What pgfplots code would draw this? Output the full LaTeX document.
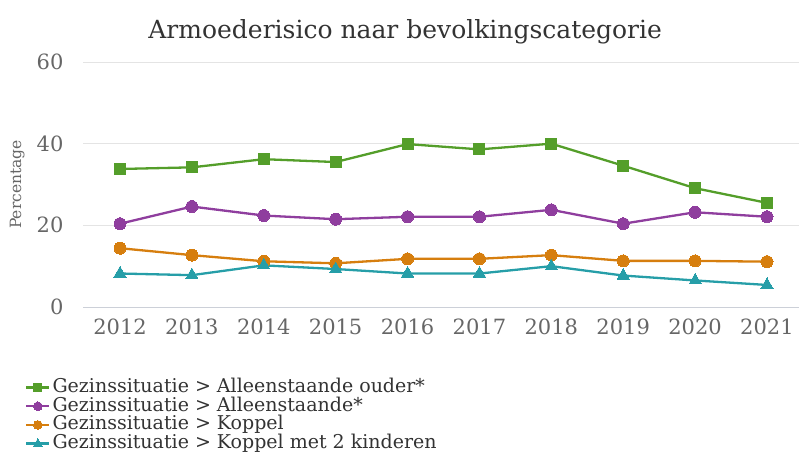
\documentclass[border=0pt]{standalone}
\usepackage{fontspec}
\setmainfont{DejaVu Serif}
\usepackage{pgfplots}
\pgfplotsset{compat=1.18}
\definecolor{cgreen}{RGB}{84,158,42}
\definecolor{cpurple}{RGB}{143,62,158}
\definecolor{corange}{RGB}{214,126,14}
\definecolor{cteal}{RGB}{38,158,168}
\definecolor{gridc}{RGB}{228,228,228}
\definecolor{basec}{RGB}{204,208,216}
\definecolor{txt}{RGB}{51,51,51}
\definecolor{tickc}{RGB}{102,102,102}
\begin{document}
\begin{tikzpicture}
\useasboundingbox (0,0) rectangle (799pt,466pt);
\begin{axis}[
  at={(83pt,159pt)}, anchor=south west,
  width=716pt, height=245pt, scale only axis,
  xmin=2011.485, xmax=2021.445,
  ymin=0, ymax=60,
  xtick={2012,...,2021},
  ytick={20,40,60},
  extra y ticks={0},
  extra y tick style={grid style={draw=basec, line width=1pt}},
  /pgf/number format/assume math mode=true,
  x tick label style={/pgf/number format/1000 sep={}, font=\fontsize{21}{24}\selectfont, text=tickc, yshift=-8pt},
  y tick label style={font=\fontsize{21}{24}\selectfont, text=tickc, xshift=-16pt},
  axis line style={draw=none},
  major tick length=0pt,
  ymajorgrids, grid style={draw=gridc, line width=1pt},
  title={Armoederisico naar bevolkingscategorie},
  title style={font=\fontsize{25}{29}\selectfont, text=txt, at={(axis description cs:0.45,1)}, anchor=south, yshift=8pt},
  ylabel={Percentage},
  ylabel style={font=\fontsize{15.5}{17}\selectfont, text=tickc, at={(axis description cs:-0.092,0.5)}, anchor=center},
  legend style={draw=none, fill=none, at={(axis description cs:-0.081,-0.285)}, anchor=north west,
    font=\fontsize{19}{20}\selectfont, text=txt, row sep=-2.3pt, inner sep=0pt,
    nodes={text height=13.5pt, text depth=3.5pt},
    /tikz/every even column/.append style={column sep=8pt}},
  legend cell align=left,
  legend image code/.code={\draw[#1, mark repeat=2, mark phase=2, mark options={scale=0.72, line width=0pt}] plot coordinates {(0pt,0pt) (11.5pt,0pt) (23pt,0pt)};},
  every axis plot/.append style={line width=2.3pt, mark options={solid}},
]
\addplot[cgreen, mark=square*, mark size=5.5pt, mark options={line width=0pt}] coordinates {
(2012,33.8) (2013,34.2) (2014,36.2) (2015,35.5) (2016,39.9) (2017,38.6) (2018,40.0) (2019,34.6) (2020,29.1) (2021,25.5)};
\addlegendentry{Gezinssituatie > Alleenstaande ouder*}
\addplot[cpurple, mark=*, mark size=6pt, mark options={line width=0pt}] coordinates {
(2012,20.4) (2013,24.6) (2014,22.4) (2015,21.5) (2016,22.1) (2017,22.1) (2018,23.8) (2019,20.4) (2020,23.2) (2021,22.1)};
\addlegendentry{Gezinssituatie > Alleenstaande*}
\addplot[corange, mark=*, mark size=6pt, mark options={line width=0pt}] coordinates {
(2012,14.4) (2013,12.7) (2014,11.2) (2015,10.7) (2016,11.8) (2017,11.8) (2018,12.7) (2019,11.3) (2020,11.3) (2021,11.1)};
\addlegendentry{Gezinssituatie > Koppel}
\addplot[cteal, mark=triangle*, mark size=7pt, mark options={line width=0pt}] coordinates {
(2012,8.2) (2013,7.8) (2014,10.2) (2015,9.3) (2016,8.2) (2017,8.2) (2018,10.0) (2019,7.7) (2020,6.5) (2021,5.4)};
\addlegendentry{Gezinssituatie > Koppel met 2 kinderen}
\end{axis}
\end{tikzpicture}
\end{document}
